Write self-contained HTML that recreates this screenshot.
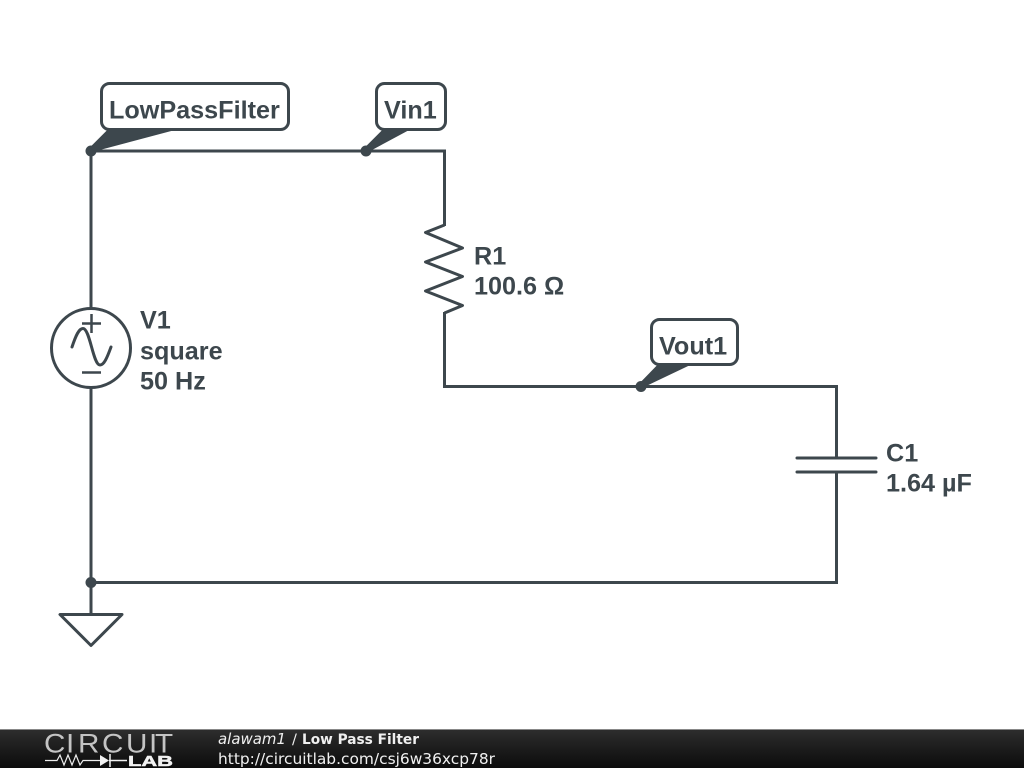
<!DOCTYPE html>
<html>
<head>
<meta charset="utf-8">
<style>
html,body{margin:0;padding:0;background:#fff;width:1024px;height:768px;overflow:hidden}
svg{display:block;position:absolute;left:0;top:0}
</style>
</head>
<body>
<svg width="1024" height="768" viewBox="0 0 1024 768" xmlns="http://www.w3.org/2000/svg">
<defs>
<linearGradient id="bar" x1="0" y1="0" x2="0" y2="1">
<stop offset="0" stop-color="#2e2e2e"/>
<stop offset="0.5" stop-color="#1c1c1c"/>
<stop offset="1" stop-color="#0c0c0c"/>
</linearGradient>
</defs>
<rect width="1024" height="768" fill="#fff"/>
<g fill="none" stroke="#3d474d" stroke-width="3" stroke-linejoin="miter">
<!-- wires -->
<path d="M91 308V151H444.500V226"/>
<path d="M91 388V614"/>
<path d="M444.500 312V386.500H836.500V458"/>
<path d="M836.500 472V582.500H91"/>
<!-- resistor -->
<path d="M444.500 225L425.500 232.500L462.500 248L425.500 262L462.500 276.500L425.500 291L462.500 305.500L444.500 313" stroke-linejoin="round"/>
<!-- source -->
<circle cx="91" cy="348" r="39.500"/>
<path d="M82 323.500H101M91.500 314V333M82 372.500H101" stroke-width="2.500"/>
<path d="M72 347C76 335 79 328.500 83 328.500C90 328.500 93 365 100 365C104 365 107 358 111 347" stroke-width="3" stroke-linecap="round"/>
<!-- capacitor -->
<path d="M797 458H876M797 472H876" stroke-linecap="round"/>
<!-- ground -->
<path d="M60 614.500H122L91 645.500Z" stroke-linejoin="round"/>
<!-- labels -->
<rect x="101.500" y="83.500" width="187" height="46" rx="8"/>
<rect x="376.500" y="83.500" width="69" height="46" rx="8"/>
<rect x="651.500" y="319.500" width="86" height="45" rx="8"/>
</g>
<g fill="#3d474d">
<circle cx="91" cy="151" r="5.500"/>
<circle cx="366" cy="151" r="5.500"/>
<circle cx="641" cy="386.500" r="5.500"/>
<circle cx="91" cy="582.500" r="5.500"/>
<path d="M90 148L108 130H173L94 151Z" stroke="#3d474d" stroke-width="1" stroke-linejoin="round"/>
<path d="M365 148L383 130H408L369 151Z" stroke="#3d474d" stroke-width="1" stroke-linejoin="round"/>
<path d="M640 383.500L658 365H689L644 386.500Z" stroke="#3d474d" stroke-width="1" stroke-linejoin="round"/>
</g>
<g font-family="'Liberation Sans',sans-serif" font-weight="bold" font-size="25.200px" fill="#3d474d">
<text x="109" y="118.500">LowPassFilter</text>
<text x="384" y="118.500">Vin1</text>
<text x="659" y="354.500">Vout1</text>
<text x="140" y="328.500">V1</text>
<text x="140" y="359.500">square</text>
<text x="140" y="389.500">50 Hz</text>
<text x="474" y="264.500">R1</text>
<text x="474" y="294.500">100.6 Ω</text>
<text x="886" y="461.500">C1</text>
<text x="886" y="491.500">1.64 µF</text>
</g>
<!-- footer -->
<rect x="0" y="729" width="1024" height="39" fill="url(#bar)"/>
<rect x="0" y="729" width="1024" height="1" fill="#888"/>
<text transform="scale(1.12 1)" x="39.300 58.900 69.600 91.100 112.500 133 138.400" y="752.500" font-family="'Liberation Sans',sans-serif" font-size="26.500px" fill="#c4c4c4">CIRCUIT</text>
<path d="M45 760.500H57L60 755L64 765L68 755L72 765L76 755L80 765L83 760.500H100" fill="none" stroke="#eee" stroke-width="1.200"/>
<path d="M100 755V766L109 760.500Z" fill="#f2f2f2"/>
<path d="M110 754V767M109 760.500H127" stroke="#f2f2f2" stroke-width="1.500" fill="none"/>
<text x="128" y="766" font-family="'Liberation Sans',sans-serif" font-weight="bold" font-size="15px" fill="#f2f2f2" stroke="#f2f2f2" stroke-width="0.500" textLength="45" lengthAdjust="spacingAndGlyphs">LAB</text>
<g font-family="'DejaVu Sans',sans-serif" fill="#f0f0f0">
<text x="218" y="744" font-size="15px" font-style="italic" textLength="68" lengthAdjust="spacingAndGlyphs">alawam1</text>
<text x="292" y="744" font-size="14.500px">/</text>
<text x="302" y="744" font-size="14.500px" font-weight="bold" textLength="117" lengthAdjust="spacingAndGlyphs">Low Pass Filter</text>
<text x="218" y="764" font-size="15.400px" textLength="277" lengthAdjust="spacingAndGlyphs">http://circuitlab.com/csj6w36xcp78r</text>
</g>
</svg>
</body>
</html>
